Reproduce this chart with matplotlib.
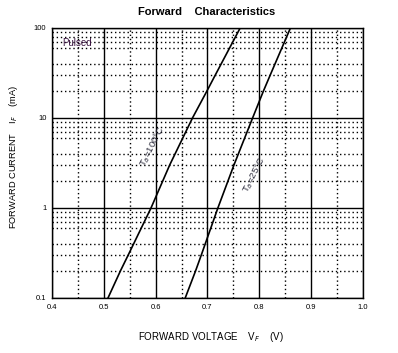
import matplotlib
matplotlib.use("Agg")
import matplotlib.pyplot as plt
from matplotlib.ticker import FixedLocator, NullFormatter

plt.rcParams["font.family"] = ["Liberation Sans", "DejaVu Sans"]

# ── Data ──────────────────────────────────────────────────────────────────────
current_ma = [0.1, 0.2, 0.3, 1, 3, 10, 20, 30, 100]
vf_100c = [0.508, 0.532, 0.547, 0.591, 0.627, 0.671, 0.699, 0.715, 0.763]
vf_25c = [0.657, 0.677, 0.688, 0.720, 0.751, 0.787, 0.808, 0.821, 0.860]

x_ticks = [0.4, 0.5, 0.6, 0.7, 0.8, 0.9, 1.0]
x_labels = ["0.4", "0.5", "0.6", "0.7", "0.8", "0.9", "1.0"]
x_minor = [0.45, 0.55, 0.65, 0.75, 0.85, 0.95]
y_ticks = [0.1, 1, 10, 100]
y_labels = ["0.1", "1", "10", "100"]
y_minor = [m * d for d in (0.1, 1, 10) for m in (2, 3, 4, 6, 7, 8, 9)]

# ── Figure ────────────────────────────────────────────────────────────────────
fig = plt.figure(figsize=(3.98, 3.53), dpi=100)
ax = fig.add_axes([52 / 398, 1 - 298 / 353, 311 / 398, 270 / 353])

ax.set_yscale("log")
ax.set_xlim(0.4, 1.0)
ax.set_ylim(0.1, 100)

ax.xaxis.set_major_locator(FixedLocator(x_ticks))
ax.set_xticklabels(x_labels)
ax.xaxis.set_minor_locator(FixedLocator(x_minor))
ax.yaxis.set_major_locator(FixedLocator(y_ticks))
ax.set_yticklabels(y_labels)
ax.yaxis.set_minor_locator(FixedLocator(y_minor))
ax.yaxis.set_minor_formatter(NullFormatter())

ax.tick_params(which="both", length=0, labelsize=5.5, pad=4)

ax.grid(True, which="major", color="black", lw=1.0, ls="-")
ax.grid(True, which="minor", color="black", lw=1.0, ls=(0, (1, 2)))
for spine in ax.spines.values():
    spine.set_linewidth(1.0)

ax.plot(vf_100c, current_ma, color="black", lw=1.2, zorder=3)
ax.plot(vf_25c, current_ma, color="black", lw=1.2, zorder=3)

ax.text(0.419, 68, "Pulsed", fontsize=7, color="#3a1440", va="center", ha="left")
ax.text(0.594, 4.8, "T$_a$=100\u00b0C", fontsize=6.8, color="#2a2a3a",
        rotation=63, ha="center", va="center")
ax.text(0.791, 2.3, "T$_a$=25\u00b0C", fontsize=6.8, color="#2a2a3a",
        rotation=63, ha="center", va="center")

fig.text(0.519, 1 - 12 / 353, "Forward    Characteristics", fontsize=8,
         fontweight="bold", ha="center", va="center")
fig.text(0.529, 1 - 337 / 353, "FORWARD VOLTAGE    V$_F$    (V)", fontsize=7,
         ha="center", va="center")
fig.text(14 / 398, 1 - 156.5 / 353, "FORWARD CURRENT    I$_F$    (mA)", fontsize=6.7,
         ha="center", va="center", rotation=90)

fig.savefig("out.png", dpi=100)
